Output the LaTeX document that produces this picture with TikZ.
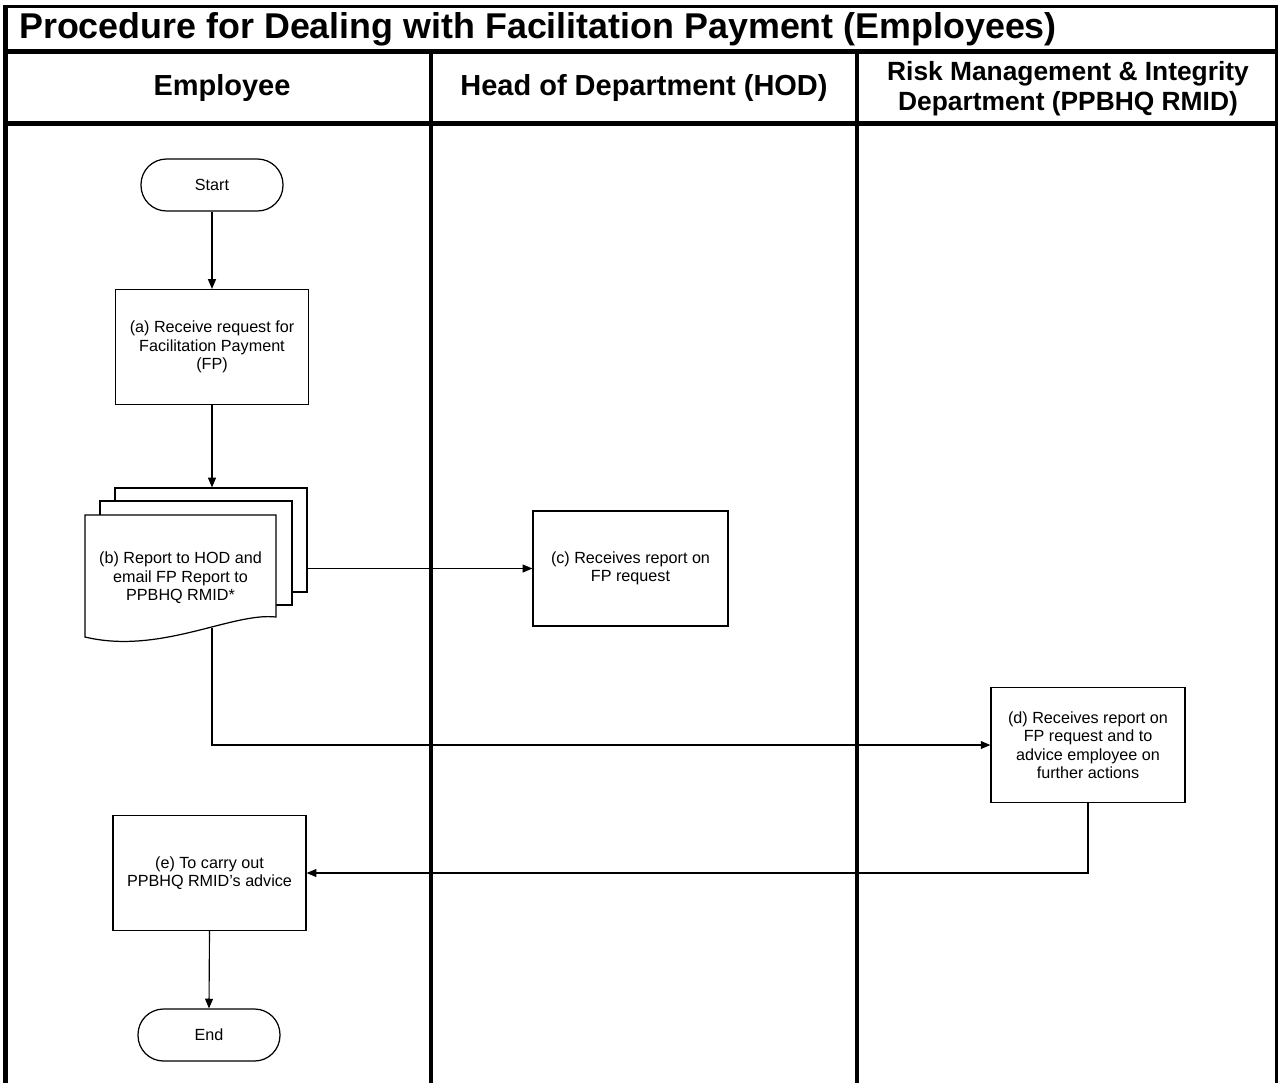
\documentclass[tikz,border=0pt]{standalone}
\usepackage{fontspec}
\setmainfont{Liberation Sans}
\usetikzlibrary{arrows.meta}

\begin{document}
\begin{tikzpicture}[x=0.02cm,y=-0.02cm,
	lane/.style={line width=2.8pt},
	txt/.style={font=\fontsize{9.2}{10.5}\selectfont,align=center},
	proc/.style={txt,draw,line width=0.7pt,minimum width=3.86cm,minimum height=2.3cm},
	term/.style={txt,draw,line width=0.7pt,rounded corners=0.51cm,minimum width=2.84cm,minimum height=1.04cm},
	page/.style={draw,line width=0.7pt,fill=white,minimum width=3.84cm,minimum height=2.08cm},
	head/.style={font=\bfseries\fontsize{16.5}{17}\selectfont,align=center},
	arr/.style={-{Triangle[length=5.5pt,width=4.5pt]},line width=0.65pt}]
	\useasboundingbox (0,0) rectangle (1278,1083);
	\draw[line width=1.7pt] (3,6.5) -- (1278,6.5);
	\draw[lane] (5.5,5) -- (5.5,1083);
	\draw[lane] (1277,5) -- (1277,1083);
	\draw[lane] (3,51.5) -- (1278,51.5);
	\draw[lane] (3,123.5) -- (1278,123.5);
	\draw[lane] (431,51.5) -- (431,1083);
	\draw[lane] (857,51.5) -- (857,1083);
	\node [anchor=west,font=\bfseries\fontsize{20.4}{21}\selectfont] (T) at (13,29) {Procedure for Dealing with Facilitation Payment (Employees)};
	\node [head] (H1) at (222,88) {Employee};
	\node [head] (H2) at (644,88) {Head of Department (HOD)};
	\node [head,font=\bfseries\fontsize{15}{17}\selectfont] (H3) at (1068,89) {Risk Management \& Integrity\\Department (PPBHQ RMID)};
	\node [term] (Start) at (212,185) {Start};
	\node [proc] (Pa) at (212,347) {(a) Receive request for\\Facilitation Payment\\(FP)};
	\node [page] (Pb3) at (211,540) {};
	\node [page] (Pb2) at (196,553) {};
	\draw[line width=0.7pt,fill=white] (85,515) -- (276,515) -- (276,617) .. controls (232,612) and (160,655) .. (85,637) -- cycle;
	\node [txt] (Pb) at (180.5,578) {(b) Report to HOD and\\email FP Report to\\PPBHQ RMID*};
	\coordinate (Pbout) at (212,628);
	\node [proc,minimum width=3.9cm] (Pc) at (630.5,568.5) {(c) Receives report on\\FP request};
	\node [proc,minimum width=3.88cm] (Pd) at (1088,745) {(d) Receives report on\\FP request and to\\advice employee on\\further actions};
	\node [proc] (Pe) at (209.5,873) {(e) To carry out\\PPBHQ RMID's advice};
	\node [term] (End) at (209,1035) {End};
	\draw
	(Start) edge[arr] (Pa)
	(Pa.south) edge[arr] (Pa.south |- Pb3.north)
	(Pb3.east |- Pc.west) edge[arr] (Pc.west)
	(Pe.south) edge[arr] (End.north);
	\draw[arr] (Pbout) |- (Pd.west);
	\draw[arr] (Pd.south) |- (Pe.east);
\end{tikzpicture}
\end{document}
